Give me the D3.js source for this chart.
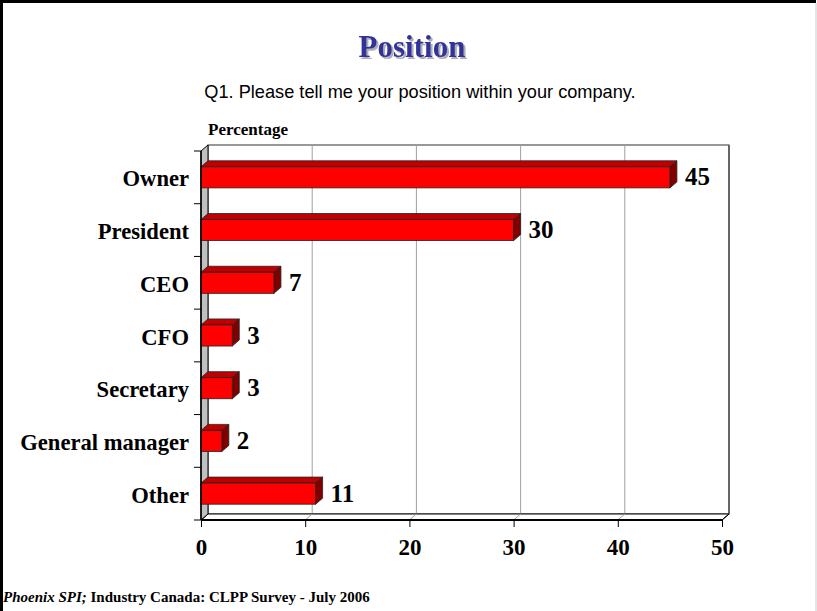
<!DOCTYPE html>
<html><head><meta charset="utf-8">
<script src="https://cdn.jsdelivr.net/npm/d3@7"></script>
<style>body{margin:0;background:#fff}</style>
</head><body><svg id="chart" width="817" height="611"></svg>
<script>
// Survey answers: share of respondents per position
const categories = ["Owner", "President", "CEO", "CFO", "Secretary", "General manager", "Other"];
const percentages = [45, 30, 7, 3, 3, 2, 11];
const xTicks = [0, 10, 20, 30, 40, 50];

const serif = "'Liberation Serif','Times New Roman',serif";
const sans = "'Liberation Sans',Arial,sans-serif";

const svg = d3.select("#chart");

// soft shadow for the heading
const defs = svg.append("defs");
defs.append("filter").attr("id", "titleShadow")
  .attr("x", "-10%").attr("y", "-20%").attr("width", "130%").attr("height", "150%")
  .append("feDropShadow").attr("dx", 2).attr("dy", 2).attr("stdDeviation", 0.6)
  .attr("flood-color", "#9a9aa8").attr("flood-opacity", 0.8);

// slide frame
svg.append("path").attr("d", "M1.5,611 V1.5 H816").attr("fill", "none")
  .attr("stroke", "#000").attr("stroke-width", 3);
svg.append("line").attr("x1", 816).attr("x2", 816).attr("y1", 3).attr("y2", 611)
  .attr("stroke", "#ccc").attr("stroke-width", 1);

// titles
svg.append("text").attr("x", 412).attr("y", 57).attr("text-anchor", "middle")
  .attr("font-family", serif).attr("font-weight", "bold").attr("font-size", 31)
  .attr("fill", "#333399").attr("filter", "url(#titleShadow)").text("Position");
svg.append("text").attr("x", 420).attr("y", 98).attr("text-anchor", "middle")
  .attr("font-family", sans).attr("font-size", 18.2).attr("fill", "#000")
  .text("Q1. Please tell me your position within your company.");
svg.append("text").attr("x", 248).attr("y", 135).attr("text-anchor", "middle")
  .attr("font-family", serif).attr("font-weight", "bold").attr("font-size", 17)
  .text("Percentage");

// scales
const plotTop = 151, plotBottom = 520;
const x = d3.scaleLinear().domain([0, 50]).range([201, 722]);
const y = d3.scaleBand().domain(categories).range([plotTop, plotBottom])
  .paddingInner(0.6).paddingOuter(0.3);
const dx = 7, dy = -6; // depth of the 3-D effect
const x0 = x(0), x1 = x(50);

const pts = p => p.map(d => d.join(",")).join(" ");

// back wall
svg.append("rect").attr("x", x0 + dx).attr("y", plotTop + dy)
  .attr("width", x1 - x0).attr("height", plotBottom - plotTop)
  .attr("fill", "#fff").attr("stroke", "#333").attr("stroke-width", 1);
// gridlines on back wall
xTicks.slice(1, -1).forEach(t => {
  svg.append("line").attr("x1", x(t) + dx).attr("x2", x(t) + dx)
    .attr("y1", plotTop + dy).attr("y2", plotBottom + dy)
    .attr("stroke", "#a0a0a0").attr("stroke-width", 1);
});
svg.append("line").attr("x1", x1 + dx).attr("x2", x1 + dx)
  .attr("y1", plotTop + dy).attr("y2", plotBottom + dy)
  .attr("stroke", "#666").attr("stroke-width", 2);

// floor
svg.append("polygon")
  .attr("points", pts([[x0, plotBottom], [x1, plotBottom], [x1 + dx, plotBottom + dy], [x0 + dx, plotBottom + dy]]))
  .attr("fill", "#fff").attr("stroke", "#000").attr("stroke-width", 1);
xTicks.forEach(t => {
  svg.append("line").attr("x1", x(t)).attr("y1", plotBottom)
    .attr("x2", x(t) + dx).attr("y2", plotBottom + dy)
    .attr("stroke", t === 0 || t === 50 ? "#000" : "#a0a0a0").attr("stroke-width", 1);
});

// left side wall
svg.append("polygon")
  .attr("points", pts([[x0, plotTop], [x0 + dx, plotTop + dy], [x0 + dx, plotBottom + dy], [x0, plotBottom]]))
  .attr("fill", "#c0c0c0").attr("stroke", "#000").attr("stroke-width", 1);

// bars
const bars = svg.append("g");
categories.forEach((c, i) => {
  const v = percentages[i];
  const yt = y(c), h = y.bandwidth(), xe = x(v);
  const g = bars.append("g");
  g.append("polygon")
    .attr("points", pts([[x0, yt], [x0 + dx, yt + dy], [xe + dx, yt + dy], [xe, yt]]))
    .attr("fill", "#c00000").attr("stroke", "#222").attr("stroke-width", 0.8);
  g.append("polygon")
    .attr("points", pts([[xe, yt], [xe + dx, yt + dy], [xe + dx, yt + h + dy], [xe, yt + h]]))
    .attr("fill", "#800000").attr("stroke", "#222").attr("stroke-width", 0.8);
  g.append("rect").attr("x", x0).attr("y", yt).attr("width", xe - x0).attr("height", h)
    .attr("fill", "#ff0000").attr("stroke", "#222").attr("stroke-width", 0.8);
  g.append("text").attr("x", xe + dx + 8).attr("y", yt + h / 2 + 8)
    .attr("font-family", serif).attr("font-weight", "bold").attr("font-size", 25)
    .text(v);
});

// x axis
const xAxis = svg.append("g").attr("transform", `translate(0,${plotBottom})`)
  .call(d3.axisBottom(x).tickValues(xTicks).tickSize(7).tickPadding(12));
xAxis.select(".domain").remove();
xAxis.selectAll("line").attr("stroke", "#000");
xAxis.selectAll("text").attr("font-family", serif).attr("font-weight", "bold")
  .attr("font-size", 23).attr("fill", "#000");
svg.append("line").attr("x1", x0).attr("x2", x1).attr("y1", plotBottom).attr("y2", plotBottom)
  .attr("stroke", "#000").attr("stroke-width", 2);

// y axis: labels centred on bands, ticks on band edges
const yAxis = svg.append("g").attr("transform", `translate(${x0},0)`)
  .call(d3.axisLeft(y).tickSize(0).tickPadding(12));
yAxis.select(".domain").remove();
yAxis.selectAll("text").attr("font-family", serif).attr("font-weight", "bold")
  .attr("font-size", 22.6).attr("fill", "#000").attr("dy", "0.4em");
const edges = categories.map(c => y(c) - y.step() * y.paddingInner() / 2);
edges.push(plotBottom);
edges[0] = plotTop;
edges.forEach(e => {
  svg.append("line").attr("x1", x0 - 7).attr("x2", x0).attr("y1", e).attr("y2", e)
    .attr("stroke", "#000");
});
svg.append("line").attr("x1", x0).attr("x2", x0).attr("y1", plotTop).attr("y2", plotBottom)
  .attr("stroke", "#000").attr("stroke-width", 1.5);

// source note
const foot = svg.append("text").attr("x", 3).attr("y", 602)
  .attr("font-family", serif).attr("font-weight", "bold").attr("font-size", 15);
foot.append("tspan").attr("font-style", "italic").text("Phoenix SPI;");
foot.append("tspan").text(" Industry Canada: CLPP Survey - July 2006");
</script>
</body></html>
